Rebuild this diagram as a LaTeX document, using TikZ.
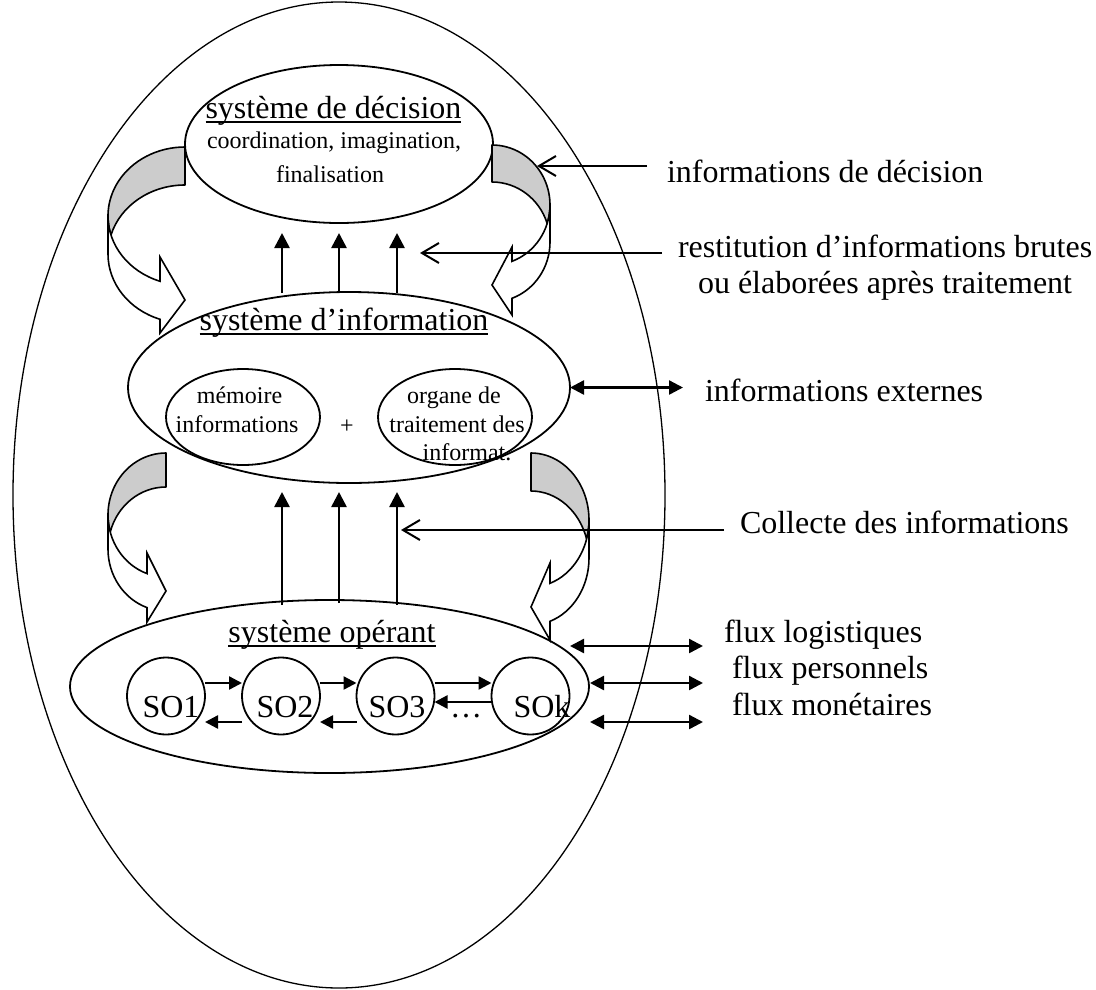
\documentclass[tikz,border=0pt]{standalone}
\usepackage{fontspec}
\setmainfont{Liberation Serif}
\usetikzlibrary{shapes.geometric,arrows.meta}
\newcommand\bigtx{\fontsize{32}{38}\selectfont}
\newcommand\smalltx{\fontsize{24}{29}\selectfont}
% underline drawn just below the baseline, crossing the descenders
\newcommand\wordul[1]{\setbox0=\hbox{#1}\rlap{\rule[-5pt]{\wd0}{1.8pt}}\box0}
\tikzset{
  every node/.style={inner sep=0pt, outer sep=0pt},
  oval/.style={draw, ellipse, line width=1.8pt},
  bigtext/.style={font=\bigtx},
  smalltext/.style={font=\smalltx},
  flow/.style={line width=2.6pt, -{Triangle[length=15pt,width=15pt]}},
  soflow/.style={line width=2.4pt, -{Triangle[length=13pt,width=13pt]}},
  note/.style={line width=2pt, -{Straight Barb[length=17pt,width=20pt]}},
  twoway/.style={line width=2.4pt, {Triangle[length=14pt,width=14pt]}-{Triangle[length=14pt,width=14pt]}},
  backband/.style={draw, fill=black!20, line width=1.6pt, line join=round},
  frontband/.style={draw, fill=white, line width=1.6pt, line join=miter},
  % curved band arrow: #1 half width, #2 arc radius (vertical), #3 band thickness,
  % #4 head inset, #5 head top, #6 tip, #7 head bottom (y relative to the origin)
  pics/bentarrow/.style n args={7}{code={
    \pgfmathsetmacro\bphi{180+acos(#4/#1)}
    \pgfmathsetmacro\bpsi{asin(#3/(2*#2))}
    \pgfmathsetmacro\byend{-#2-#3+#2*sin(\bphi)}
    \path[backband] (0,0)
      arc[start angle=90, end angle={180+\bpsi}, x radius=#1, y radius=#2]
      arc[start angle={180-\bpsi}, end angle=90, x radius=#1, y radius=#2] -- cycle;
    \path[frontband] (-#1,-#2)
      arc[start angle=180, end angle=\bphi, x radius=#1, y radius=#2]
      -- (-#4,#5) -- (0,#6) -- (-#4,#7) -- (-#4,\byend)
      arc[start angle=\bphi, end angle=180, x radius=#1, y radius=#2] -- cycle;
  }}
}
\begin{document}
\begin{tikzpicture}[x=1pt,y=1pt]
\useasboundingbox (0,0) rectangle (1096,-989);
\fill[white] (0,0) rectangle (1096,-989);

% enclosing system
\node[draw, ellipse, line width=1.3pt, minimum width=652pt, minimum height=986pt] (outer) at (339,-495) {};

% the three subsystems
\node[oval, minimum width=308pt, minimum height=158pt] (dec) at (339,-144) {};
\node[oval, minimum width=442pt, minimum height=191pt] (info) at (349,-387.5) {};
\node[oval, minimum width=154pt, minimum height=96pt] (mem) at (243,-417) {};
\node[oval, minimum width=154pt, minimum height=96pt] (org) at (455,-417) {};
\node[oval, minimum width=519pt, minimum height=173pt] (ope) at (329.5,-686.5) {};
\node[oval, minimum width=78pt, minimum height=77pt] (so1) at (166,-696) {};
\node[oval, minimum width=78pt, minimum height=77pt] (so2) at (281,-696) {};
\node[oval, minimum width=78pt, minimum height=77pt] (so3) at (395.5,-696) {};
\node[oval, minimum width=78pt, minimum height=77pt] (sok) at (530.5,-696) {};

% curved band arrows between the levels (right ones mirrored)
\pic at (185,-147) {bentarrow={77}{69}{38}{25}{-110}{-153}{-186}};
\pic[xscale=-1, transform shape] at (492,-145) {bentarrow={58}{60}{37}{20}{-102}{-140}{-170}};
\pic at (166,-453) {bentarrow={58}{62}{34}{19}{-100}{-138}{-169}};
\pic[xscale=-1, transform shape] at (531,-453) {bentarrow={58}{67}{38}{19}{-110}{-154}{-187}};

% information flowing upwards
\coordinate (ia1) at (282,-293); \coordinate (da1) at (282,-233);
\coordinate (ia2) at (339,-291); \coordinate (da2) at (339,-233);
\coordinate (ia3) at (397,-293); \coordinate (da3) at (397,-233);
\draw[flow] (ia1) -- (da1);
\draw[flow] (ia2) -- (da2);
\draw[flow] (ia3) -- (da3);
\coordinate (oa1) at (282,-605); \coordinate (ib1) at (282,-492);
\coordinate (oa2) at (339,-603); \coordinate (ib2) at (339,-492);
\coordinate (oa3) at (397,-605); \coordinate (ib3) at (397,-492);
\draw[flow] (oa1) -- (ib1);
\draw[flow] (oa2) -- (ib2);
\draw[flow] (oa3) -- (ib3);

% flows between the operating subsystems
\draw[soflow] ([yshift=13pt]so1.east) -- ([yshift=13pt]so2.west);
\draw[soflow] ([yshift=13pt]so2.east) -- ([yshift=13pt]so3.west);
\draw[soflow] ([yshift=13pt]so3.east) -- ([yshift=13pt]sok.west);
\draw[soflow] ([yshift=-6pt]sok.west) -- ([yshift=-6pt]so3.east);
\draw[soflow] ([yshift=-26pt]so2.west) -- ([yshift=-26pt]so1.east);
\draw[soflow] ([yshift=-26pt]so3.west) -- ([yshift=-26pt]so2.east);

% annotations on the right
\coordinate (nd1) at (647,-166); \coordinate (nd2) at (537,-166);
\coordinate (nr1) at (662,-253); \coordinate (nr2) at (420,-253);
\coordinate (nc1) at (724,-530); \coordinate (nc2) at (401,-530);
\draw[note] (nd1) -- (nd2);
\draw[note] (nr1) -- (nr2);
\draw[note] (nc1) -- (nc2);
\coordinate (ext) at (683,-387.5);
\draw[twoway] (info.east) -- (ext);
\coordinate (fl1) at (570,-646); \coordinate (fl2) at (703,-646);
\coordinate (fp1) at (590,-683); \coordinate (fp2) at (703,-683);
\coordinate (fm1) at (590,-722); \coordinate (fm2) at (703,-722);
\draw[twoway] (fl1) -- (fl2);
\draw[twoway] (fp1) -- (fp2);
\draw[twoway] (fm1) -- (fm2);

% texts inside the ellipses
\node[bigtext, anchor=base] (tdec) at (333.5,-118) {\wordul{système de décision}};
\node[smalltext, anchor=base] (tdec2) at (334,-148) {coordination, imagination,};
\node[smalltext, anchor=base] (tdec3) at (330,-182) {finalisation};
\node[bigtext, anchor=base] (tinf) at (344,-330) {\wordul{système d’information}};
\node[smalltext, anchor=base] (tmem1) at (239.5,-403) {mémoire};
\node[smalltext, anchor=base] (tmem2) at (237,-432) {informations};
\node[smalltext, anchor=base] (tplus) at (347,-433) {+};
\node[smalltext, anchor=base] (torg1) at (454,-403) {organe de};
\node[smalltext, anchor=base] (torg2) at (457,-432) {traitement des};
\node[smalltext, anchor=base] (torg3) at (467,-460) {informat.};
\node[bigtext, anchor=base] (tope) at (332,-642) {\wordul{système opérant}};
\node[bigtext, anchor=base] (tso1) at (171,-717) {SO1};
\node[bigtext, anchor=base] (tso2) at (285,-717) {SO2};
\node[bigtext, anchor=base] (tso3) at (397,-717) {SO3};
\node[bigtext, anchor=base] (tsok) at (542,-717) {SOk};
\node[bigtext, anchor=base] (tdots) at (466,-717) {…};

% texts on the right
\node[bigtext, anchor=base west] (ldec) at (667,-182) {informations de décision};
\node[bigtext, anchor=base west] (lres1) at (678,-257) {restitution d’informations brutes};
\node[bigtext, anchor=base west] (lres2) at (698,-293) {ou élaborées après traitement};
\node[bigtext, anchor=base west] (lext) at (705,-401) {informations externes};
\node[bigtext, anchor=base west] (lcol) at (740,-533) {Collecte des informations};
\node[bigtext, anchor=base west] (lfl) at (724,-642) {flux logistiques};
\node[bigtext, anchor=base west] (lfp) at (732,-678) {flux personnels};
\node[bigtext, anchor=base west] (lfm) at (732,-715) {flux monétaires};
\end{tikzpicture}
\end{document}
